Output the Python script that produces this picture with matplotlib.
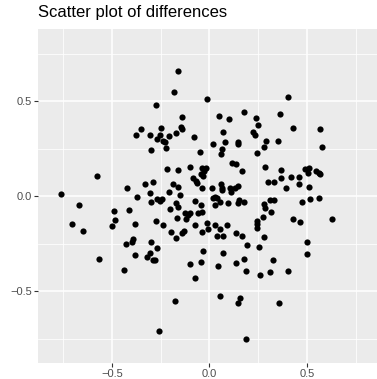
import numpy as np
import matplotlib
matplotlib.use("Agg")
import matplotlib.pyplot as plt

# Differences
diff_x = [
    -0.350, -0.378, -0.305, -0.160, -0.181, -0.014, -0.274, -0.143, 0.047, 0.102,
    0.178, 0.240, 0.247, -0.247, -0.145, -0.143, 0.068, 0.222, 0.232, -0.254,
    -0.208, -0.173, -0.078, 0.403, 0.363, 0.430, 0.565,
    -0.302, -0.578, -0.423, -0.331, -0.290, -0.763, -0.370, -0.305, -0.302,
    -0.668, -0.488, -0.413, -0.483, -0.498, -0.381, -0.707, -0.647, -0.394,
    -0.430, -0.397, -0.298,
    -0.564, -0.438, -0.384, -0.319, -0.304, -0.290,
    -0.268, -0.279, -0.035, 0.068, 0.194, 0.255, -0.100, -0.042, 0.045, 0.136,
    0.175, 0.187, 0.259, -0.073, -0.177, 0.054, 0.155, 0.145, -0.257, 0.189,
    0.500, 0.500, 0.326, 0.312, 0.404, 0.355,
    0.291, 0.350, 0.278, 0.577, 0.286, 0.365, 0.491, 0.509, 0.504, 0.546,
    0.560, 0.568, 0.367, 0.416, 0.457, 0.300, 0.332, 0.392, 0.459, 0.509,
    0.312, 0.329, 0.281, 0.286, 0.315, 0.474, 0.515, 0.562, 0.273, 0.430,
    0.463, 0.630, 0.281,
    -0.269, -0.240, -0.228, -0.223, -0.049, 0.019, 0.079, 0.066, 0.057, 0.148,
    0.148, 0.245, -0.219, -0.163, -0.100, -0.040, -0.028, -0.018, -0.045, -0.032,
    0.114, 0.136, 0.165, -0.083, -0.071, -0.063, -0.040, 0.011, 0.059, 0.063,
    0.063, -0.186, -0.163, -0.151, -0.206, 0.105, 0.109, 0.131, 0.148, 0.028,
    0.037, 0.019, -0.271, -0.254, -0.245, -0.172, -0.160, -0.074, -0.045, 0.028,
    0.054, 0.096, 0.148, 0.153, 0.178, -0.203, -0.126, -0.109, -0.100, -0.061,
    -0.040, -0.168, -0.121, -0.274, 0.242, 0.242, -0.237, -0.074, -0.014, -0.006,
    0.028, 0.054, 0.088, 0.242, -0.197, -0.143, -0.129, -0.040, 0.037, 0.071,
    0.134, 0.165, -0.172,
]
diff_y = [
    0.356, 0.321, 0.324, 0.661, 0.549, 0.511, 0.482, 0.416, 0.424, 0.405,
    0.442, 0.412, 0.374, 0.359, 0.366, 0.356, 0.338, 0.338, 0.321, 0.324,
    0.316, 0.332, 0.311, 0.523, 0.433, 0.361, 0.354,
    0.245, 0.107, 0.045, 0.066, 0.077, 0.011, -0.004, 0.016, -0.028,
    -0.044, -0.077, -0.071, -0.125, -0.156, -0.147, -0.147, -0.181, -0.223,
    -0.249, -0.242, -0.239,
    -0.328, -0.386, -0.311, -0.318, -0.298, -0.337,
    -0.274, -0.337, -0.289, -0.297, -0.255, -0.265, -0.356, -0.347, -0.368, -0.349,
    -0.330, -0.395, -0.413, -0.432, -0.551, -0.526, -0.534, -0.560, -0.707, -0.749,
    -0.241, -0.302, -0.334, -0.400, -0.393, -0.562,
    0.289, 0.291, 0.259, 0.258, 0.153, 0.138, 0.144, 0.147, 0.124, 0.135,
    0.123, 0.117, 0.098, 0.103, 0.102, 0.075, 0.075, 0.045, 0.063, 0.047,
    -0.021, -0.019, -0.042, -0.063, -0.083, -0.032, -0.014, -0.011, -0.109, -0.119,
    -0.134, -0.118, -0.213,
    0.301, 0.291, 0.286, 0.253, 0.235, 0.275, 0.287, 0.247, 0.221, 0.287,
    0.274, 0.226, 0.144, 0.137, 0.156, 0.147, 0.133, 0.151, 0.117, 0.108,
    0.174, 0.172, 0.135, 0.095, 0.081, 0.072, 0.042, 0.042, 0.065, 0.042,
    0.032, 0.063, 0.051, 0.007, 0.024, 0.042, 0.024, 0.042, 0.056, -0.002,
    -0.011, -0.011, -0.014, -0.025, -0.014, -0.034, -0.055, -0.025, -0.046, -0.046,
    -0.028, -0.037, -0.037, -0.019, -0.032, -0.067, -0.089, -0.098, -0.086, -0.089,
    -0.084, -0.116, -0.121, -0.128, -0.130, -0.147, -0.151, -0.151, -0.142, -0.172,
    -0.151, -0.174, -0.151, -0.168, -0.186, -0.195, -0.183, -0.186, -0.209, -0.209,
    -0.195, -0.209, -0.221,
]

major_ticks = [-0.5, 0.0, 0.5]
minor_ticks = [-0.75, -0.25, 0.25, 0.75]
tick_labels = ['\u22120.5', '0.0', '0.5']

plt.rcParams['font.family'] = ['Liberation Sans', 'DejaVu Sans']

fig = plt.figure(figsize=(3.77, 3.79), dpi=100)
ax = fig.add_axes([38 / 377, 1 - 363 / 379, 339 / 377, 334 / 379])
ax.set_facecolor('#EBEBEB')

ax.scatter(diff_x, diff_y, s=20, color='black', linewidths=0, zorder=3)

ax.set_xlim(-0.879, 0.859)
ax.set_ylim(-0.877, 0.880)
ax.set_xticks(major_ticks)
ax.set_yticks(major_ticks)
ax.set_xticks(minor_ticks, minor=True)
ax.set_yticks(minor_ticks, minor=True)
ax.set_xticklabels(tick_labels)
ax.set_yticklabels(tick_labels)

ax.grid(which='major', color='white', linewidth=1.1, zorder=0)
ax.grid(which='minor', color='white', linewidth=0.55, zorder=0)
ax.set_axisbelow(True)
for s in ax.spines.values():
    s.set_visible(False)

ax.tick_params(which='major', length=3, width=0.8, color='#333333',
               labelsize=8, labelcolor='#4D4D4D', pad=1.2)
ax.tick_params(which='minor', length=0)

fig.text(38 / 377, 1 - 13 / 379, 'Scatter plot of differences',
         fontsize=12, color='black', ha='left', va='center')

fig.savefig('out.png', dpi=100)
